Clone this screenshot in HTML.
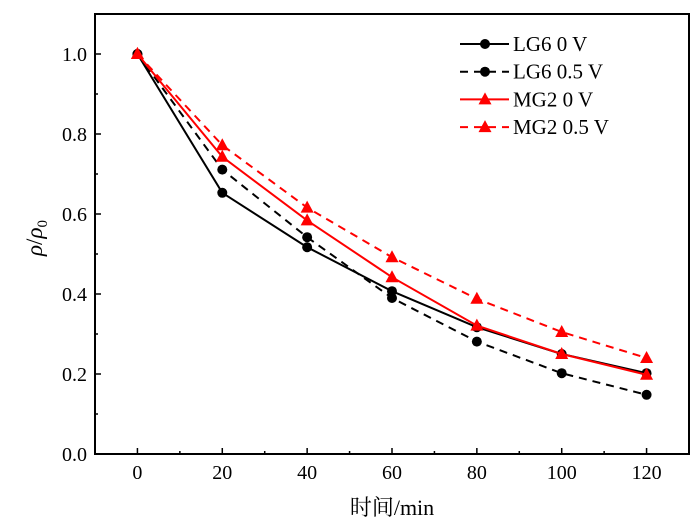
<!DOCTYPE html>
<html><head><meta charset="utf-8"><style>
body{margin:0;background:#fff}
svg text{font-family:"Liberation Serif","Noto Serif CJK SC",serif;fill:#000}
</style></head><body>
<svg id="c" width="700" height="526"></svg>
<script>
const times=[0,20,40,60,80,100,120];
const lg6_0=[1.0,0.653,0.517,0.407,0.317,0.25,0.202];
const lg6_05=[1.0,0.711,0.542,0.39,0.281,0.202,0.148];
const mg2_0=[1.0,0.743,0.584,0.442,0.321,0.25,0.198];
const mg2_05=[1.0,0.772,0.616,0.492,0.388,0.305,0.24];
const xTicks=[0,20,40,60,80,100,120];
const yTicks=[0.0,0.2,0.4,0.6,0.8,1.0];
const names=["LG6 0 V","LG6 0.5 V","MG2 0 V","MG2 0.5 V"];

const L=95,R=689,T=14,B=454;
const xs=v=>L+(v+10)/140*(R-L);
const ys=v=>B-v/1.1*(B-T);
const svg=document.getElementById('c');
const NS='http://www.w3.org/2000/svg';
function mk(tag,attrs,parent){const e=document.createElementNS(NS,tag);for(const k in attrs)e.setAttribute(k,attrs[k]);(parent||svg).appendChild(e);return e;}

const frame=mk('rect',{x:L,y:T,width:R-L,height:B-T,fill:'none',stroke:'#000','stroke-width':2});



for(let v=0;v<=120;v+=10){
  const t=mk('line',{x1:xs(v),x2:xs(v),y1:B,y2:B-(v%20===0?6:3),stroke:'#000','stroke-width':1.5});
  
  
}
xTicks.forEach(v=>{
  const t=mk('text',{x:xs(v),y:B+25,'text-anchor':'middle','font-size':20});
  t.textContent=v;
  
  
});
for(let i=0;i<=10;i++){
  const v=i/10;
  const t=mk('line',{x1:L,x2:L+(i%2===0?6:3),y1:ys(v),y2:ys(v),stroke:'#000','stroke-width':1.5});
  
  
}
yTicks.forEach(v=>{
  const t=mk('text',{x:L-8,y:ys(v)+7,'text-anchor':'end','font-size':20});
  t.textContent=v.toFixed(1);
  
  
});
const xt=mk('text',{x:(L+R)/2,y:515,'text-anchor':'middle','font-size':22});
xt.textContent='时间/min';


const yt=mk('text',{transform:'translate(42,238) rotate(-90)','text-anchor':'middle','font-size':23});
yt.innerHTML='<tspan font-style="italic">ρ</tspan>/<tspan font-style="italic">ρ</tspan><tspan font-size="15" dy="5">0</tspan>';



const series=[[lg6_0,'#000',false,'circle'],[lg6_05,'#000',true,'circle'],[mg2_0,'#f00',false,'tri'],[mg2_05,'#f00',true,'tri']];
function marker(type,x,y,col,g){
  if(type==='circle')return mk('circle',{cx:x,cy:y,r:5,fill:col},g);
  return mk('polygon',{points:`${x},${y-7} ${x-6.5},${y+5} ${x+6.5},${y+5}`,fill:col},g);
}
series.forEach((s,si)=>{
  const [vals,col,dash,type]=s;
  const g=mk('g',{});
  
  
  const pl=mk('polyline',{points:times.map((t,i)=>xs(t)+','+ys(vals[i])).join(' '),fill:'none',stroke:col,'stroke-width':2,'stroke-dasharray':dash?'8,6':'none'},g);
  
  
  times.forEach((t,i)=>{
    const m=marker(type,xs(t),ys(vals[i]),col,g);
    
    
  });
  const ly=44+si*27.7;
  const lg=mk('g',{},g);
  
  
  mk('line',{x1:460,x2:509,y1:ly,y2:ly,stroke:col,'stroke-width':2,'stroke-dasharray':dash?'8,6':'none'},lg);
  marker(type,485,ly,col,lg);
  const tx=mk('text',{x:513,y:ly+7,'font-size':21},lg);
  tx.textContent=names[si];
});
</script>
</body></html>
